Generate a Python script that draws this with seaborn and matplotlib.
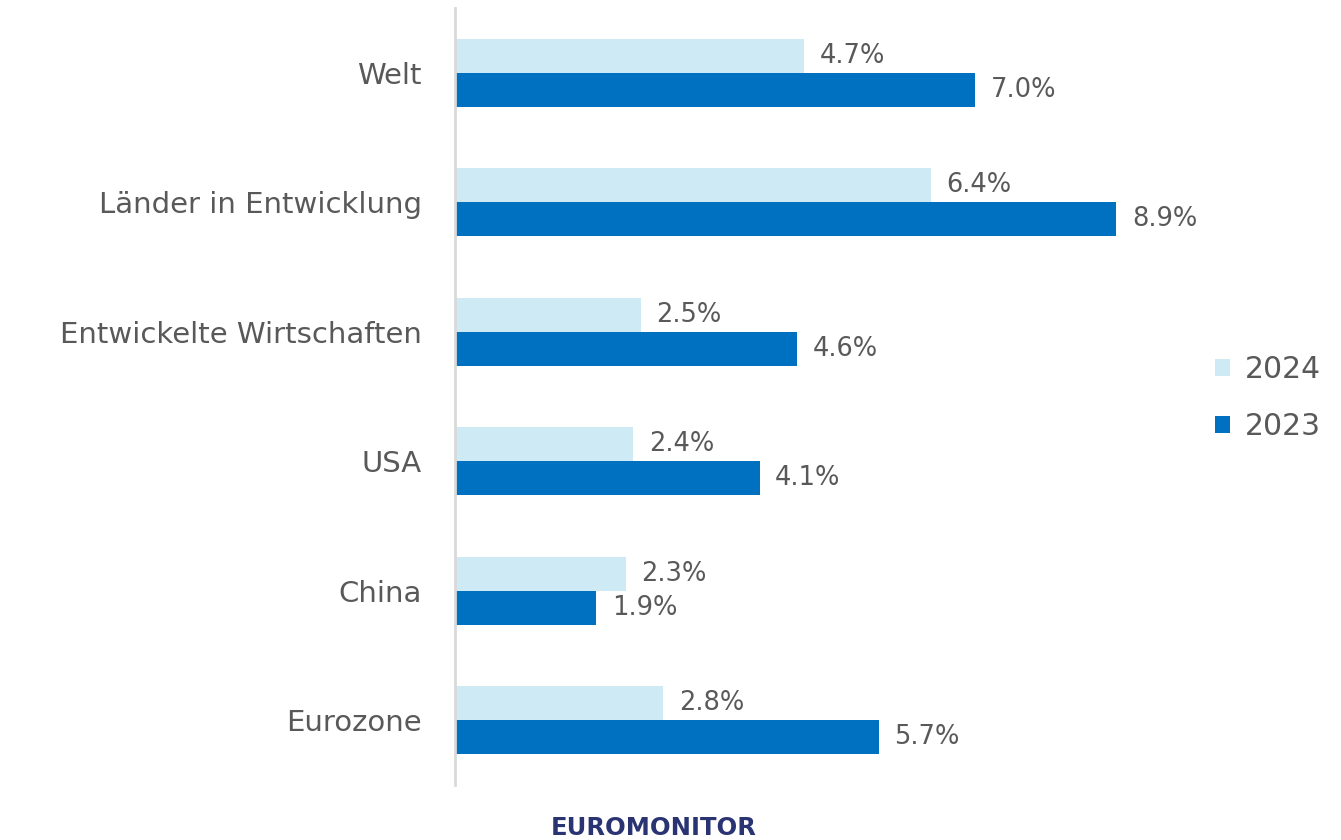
import matplotlib
matplotlib.use("Agg")
import matplotlib.pyplot as plt
import seaborn as sns
import pandas as pd
from matplotlib.patches import Patch

categories = ["Welt", "Länder in Entwicklung", "Entwickelte Wirtschaften", "USA", "China", "Eurozone"]
values_2024 = [4.7, 6.4, 2.5, 2.4, 2.3, 2.8]
values_2023 = [7.0, 8.9, 4.6, 4.1, 1.9, 5.7]
years = ["2024", "2023"]
colors = {"2024": "#CDEAF5", "2023": "#0070C0"}

df = pd.DataFrame({
    "Region": categories * 2,
    "Jahr": ["2024"] * len(categories) + ["2023"] * len(categories),
    "Wert": values_2024 + values_2023,
})

sns.set_theme(style="white")
plt.rcParams["font.family"] = ["DejaVu Sans"]
text_color = "#595959"

fig = plt.figure(figsize=(13.41, 8.4), dpi=100)
W, H = 1341, 840
ax = fig.add_axes([455 / W, 1 - 785 / H, (1200 - 455) / W, (785 - 8) / H])

sns.barplot(data=df, y="Region", x="Wert", hue="Jahr", hue_order=years,
            palette=colors, orient="h", width=0.525, gap=0, saturation=1,
            linewidth=0, ax=ax, legend=False, order=categories)

for cont, yr in zip(ax.containers, years):
    for bar in cont:
        w = bar.get_width()
        ax.text(w + 0.21, bar.get_y() + bar.get_height() / 2, f"{w:.1f}%",
                va="center", ha="left", fontsize=18.5, color=text_color)

ax.set_xlim(0, (1200 - 455) / 74.3)
ax.set_ylim(5.5, -0.5)
ax.set_xlabel("")
ax.set_ylabel("")
ax.set_xticks([])
ax.tick_params(axis="y", length=0, pad=24, labelsize=21, labelcolor=text_color)
for s in ["top", "right", "bottom"]:
    ax.spines[s].set_visible(False)
ax.spines["left"].set_color("#D9D9D9")
ax.spines["left"].set_linewidth(2)

handles = [Patch(facecolor=colors[y], edgecolor="none", label=y) for y in years]
fig.legend(handles=handles, loc="center left", bbox_to_anchor=(1188 / W, 1 - 398 / H),
           frameon=False, fontsize=21.5, handlelength=0.5, handleheight=0.5,
           handletextpad=0.5, labelspacing=0.95, labelcolor=text_color)

fig.text(654 / W, 1 - 828 / H, "EUROMONITOR", ha="center", va="center",
         fontsize=17.5, fontweight="bold", color="#2B3473")

fig.savefig("out.png", dpi=100)
